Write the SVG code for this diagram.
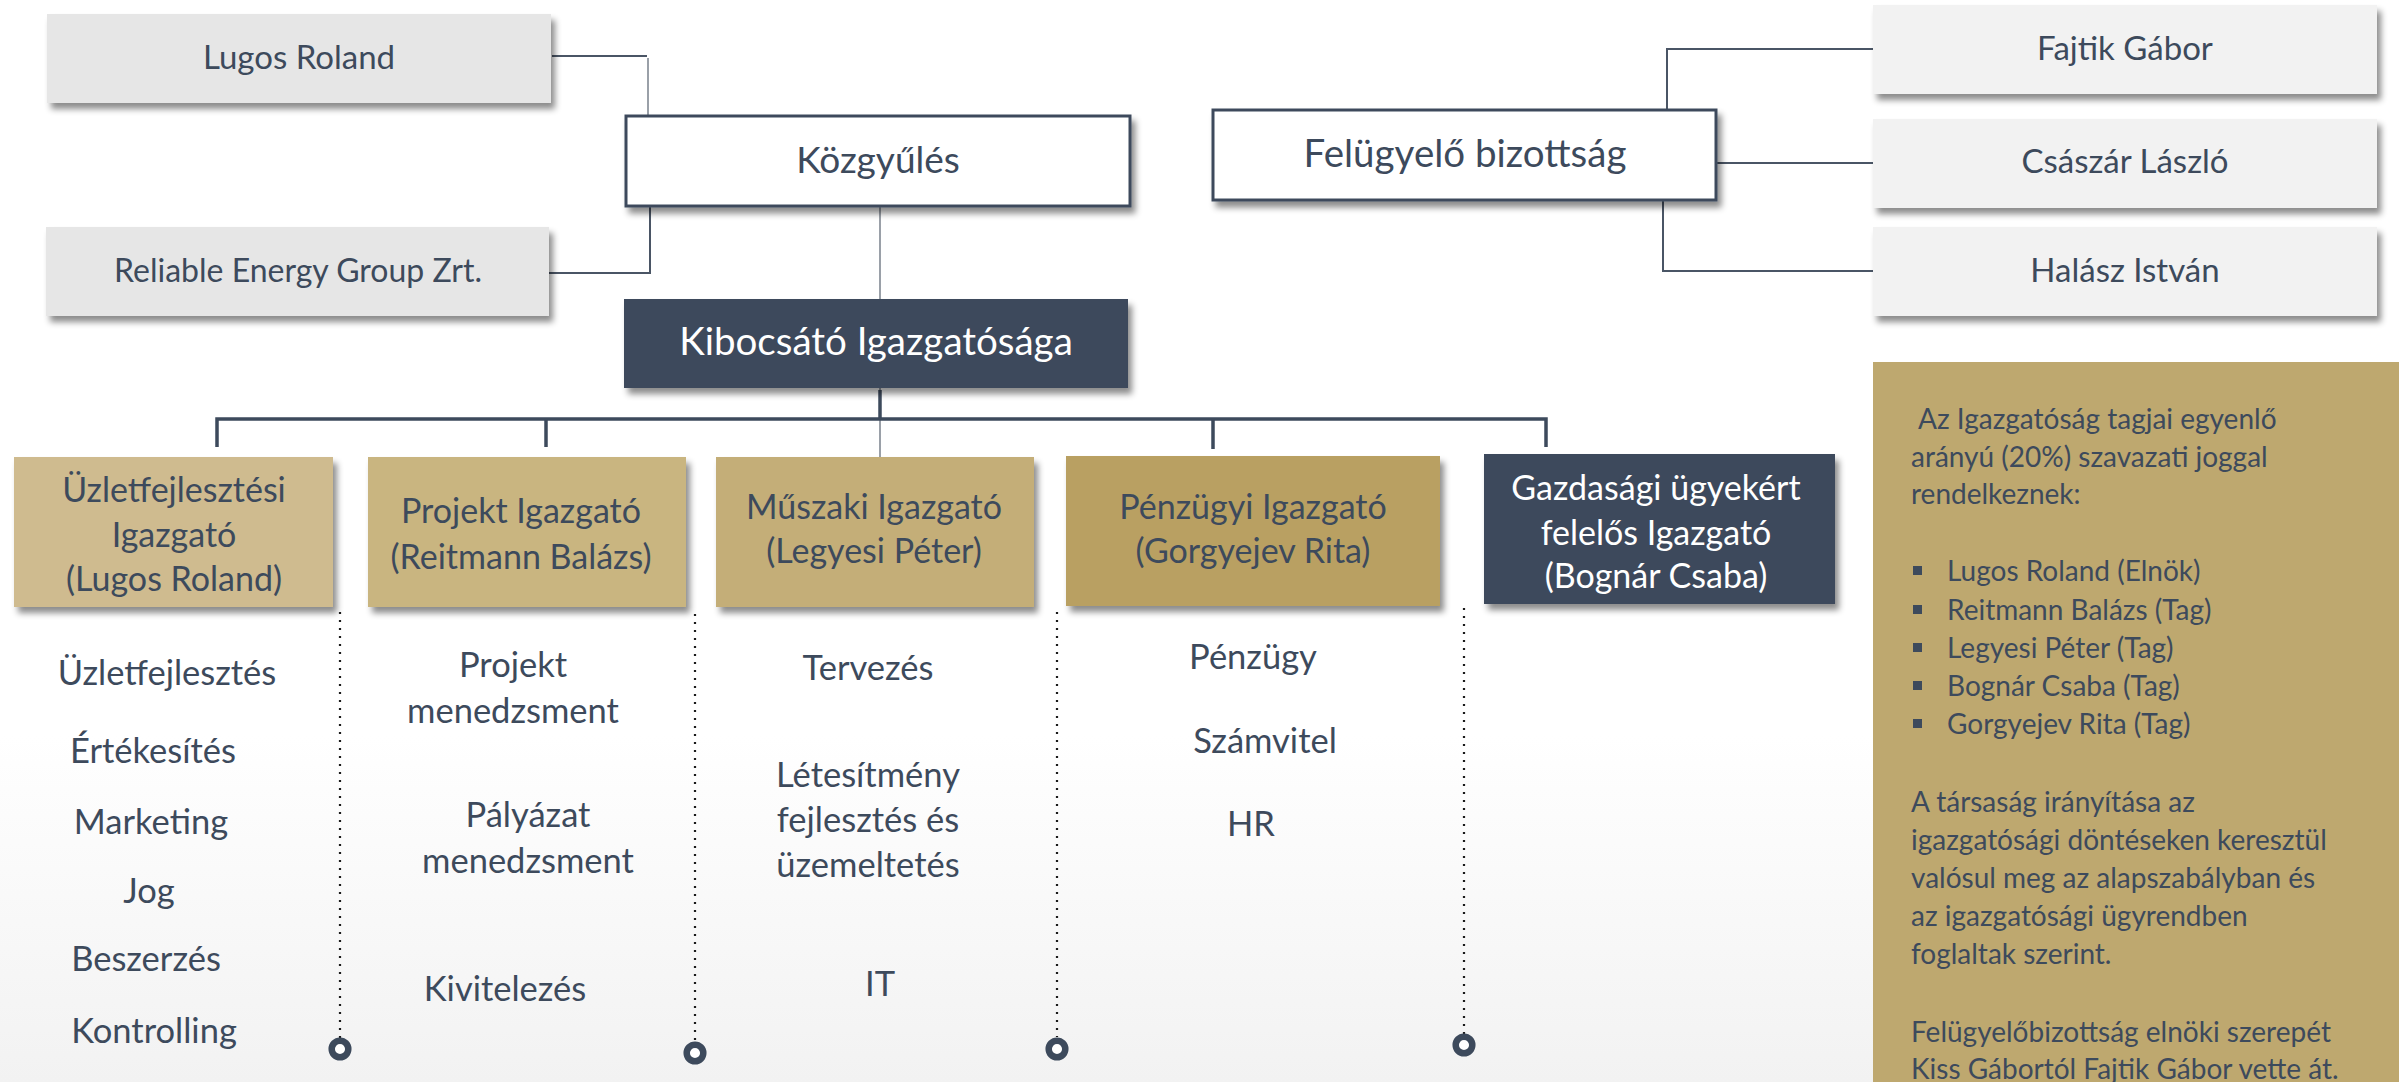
<svg xmlns="http://www.w3.org/2000/svg" width="2399" height="1082" viewBox="0 0 2399 1082">
<defs>
<linearGradient id="bg" x1="0" y1="0" x2="0" y2="1">
<stop offset="0" stop-color="#ffffff"/>
<stop offset="0.68" stop-color="#ffffff"/>
<stop offset="1" stop-color="#f2f2f2"/>
</linearGradient>
<filter id="sh" x="-10%" y="-20%" width="125%" height="150%">
<feDropShadow dx="4" dy="6" stdDeviation="3" flood-color="#000" flood-opacity="0.45"/>
</filter>
<style>
text{font-family:Lato,"Open Sans",sans-serif;fill:#3d4a5c;text-anchor:middle}
.g{font-size:33px}
.big{font-size:38.5px}
.lab{font-size:34px}
.sub{font-size:34.5px}
.w{fill:#ffffff}
.pan{font-size:28px;text-anchor:start}
.thin{stroke:#4a5565;stroke-width:2;fill:none}
.gry{stroke:#9aa0a8;stroke-width:2;fill:none}
.thick{stroke:#3d4a5c;stroke-width:3.5;fill:none}
.dot{stroke:#1a1a1a;stroke-width:2.2;stroke-dasharray:2 6;fill:none}
.ring{fill:#ffffff;stroke:#3d4a5c;stroke-width:6.5}
</style>
</defs>
<rect x="0" y="0" width="2399" height="1082" fill="url(#bg)"/>

<g id="connectors">
<polyline class="thin" points="552,56 647,56"/>
<polyline class="gry" points="648,58 648,116"/>
<polyline class="thin" points="650,206 650,273 549,273"/>
<polyline class="gry" points="880,206 880,457"/>
<polyline class="thick" points="880,390 880,419"/>
<polyline class="thick" points="217,447 217,419 1546,419 1546,447"/>
<polyline class="thick" points="546,419 546,447"/>
<polyline class="thick" points="1213,419 1213,449"/>
<polyline class="thin" points="1667,110 1667,49 1873,49"/>
<polyline class="thin" points="1717,163 1873,163"/>
<polyline class="thin" points="1663,200 1663,271 1873,271"/>
<line class="dot" x1="340" y1="612" x2="340" y2="1038"/>
<line class="dot" x1="695" y1="614" x2="695" y2="1041"/>
<line class="dot" x1="1057" y1="612" x2="1057" y2="1037"/>
<line class="dot" x1="1464" y1="608" x2="1464" y2="1034"/>
<circle class="ring" cx="340" cy="1049" r="8.3"/>
<circle class="ring" cx="695" cy="1053" r="8.3"/>
<circle class="ring" cx="1057" cy="1049" r="8.3"/>
<circle class="ring" cx="1464" cy="1045" r="8.3"/>
</g>

<g id="lugos">
<rect x="47" y="14" width="504" height="89" fill="#e6e6e6" filter="url(#sh)"/>
<text class="g" x="299" y="69">Lugos Roland</text>
</g>
<g id="reliable">
<rect x="46" y="227" width="503" height="89" fill="#e6e6e6" filter="url(#sh)"/>
<text class="g" x="298" y="282" style="font-size:32px">Reliable Energy Group Zrt.</text>
</g>
<g id="kozgyules">
<rect x="626" y="116" width="504" height="90" fill="#ffffff" stroke="#3d4a5c" stroke-width="3" filter="url(#sh)"/>
<text class="big" x="878" y="173" style="font-size:37px">Közgyűlés</text>
</g>
<g id="kibocsato">
<rect x="624" y="299" width="504" height="89" fill="#3d4a5c" filter="url(#sh)"/>
<text class="big w" x="876" y="355">Kibocsátó Igazgatósága</text>
</g>
<g id="felugyelo">
<rect x="1213" y="110" width="503" height="90" fill="#ffffff" stroke="#3d4a5c" stroke-width="3" filter="url(#sh)"/>
<text class="big" x="1465" y="167">Felügyelő bizottság</text>
</g>
<g id="fajtik">
<rect x="1873" y="5" width="504" height="89" fill="#f2f2f2" filter="url(#sh)"/>
<text class="g" x="2125" y="60">Fajtik Gábor</text>
</g>
<g id="csaszar">
<rect x="1873" y="119" width="504" height="89" fill="#f2f2f2" filter="url(#sh)"/>
<text class="g" x="2125" y="173">Császár László</text>
</g>
<g id="halasz">
<rect x="1873" y="227" width="504" height="89" fill="#f2f2f2" filter="url(#sh)"/>
<text class="g" x="2125" y="282">Halász István</text>
</g>

<g id="uzletfejlesztesi">
<rect x="14" y="457" width="319" height="150" fill="#cfbb8f" filter="url(#sh)"/>
<text class="lab" x="174" y="502">Üzletfejlesztési</text>
<text class="lab" x="174" y="547">Igazgató</text>
<text class="lab" x="174" y="591">(Lugos Roland)</text>
</g>
<g id="projekt">
<rect x="368" y="457" width="318" height="150" fill="#c9b580" filter="url(#sh)"/>
<text class="lab" x="521" y="523">Projekt Igazgató</text>
<text class="lab" x="521" y="569">(Reitmann Balázs)</text>
</g>
<g id="muszaki">
<rect x="716" y="457" width="318" height="150" fill="#c4ae78" filter="url(#sh)"/>
<text class="lab" x="874" y="519">Műszaki Igazgató</text>
<text class="lab" x="874" y="563">(Legyesi Péter)</text>
</g>
<g id="penzugyi">
<rect x="1066" y="456" width="374" height="150" fill="#b9a062" filter="url(#sh)"/>
<text class="lab" x="1253" y="519">Pénzügyi Igazgató</text>
<text class="lab" x="1253" y="563">(Gorgyejev Rita)</text>
</g>
<g id="gazdasagi">
<rect x="1484" y="454" width="351" height="150" fill="#3d4a5c" filter="url(#sh)"/>
<text class="lab w" x="1656" y="500">Gazdasági ügyekért</text>
<text class="lab w" x="1656" y="545">felelős Igazgató</text>
<text class="lab w" x="1656" y="588">(Bognár Csaba)</text>
</g>

<g id="col1">
<text class="sub" x="167" y="685">Üzletfejlesztés</text>
<text class="sub" x="153" y="763">Értékesítés</text>
<text class="sub" x="151" y="834">Marketing</text>
<text class="sub" x="149" y="903">Jog</text>
<text class="sub" x="146" y="971">Beszerzés</text>
<text class="sub" x="154" y="1043">Kontrolling</text>
</g>
<g id="col2">
<text class="sub" x="513" y="677">Projekt</text>
<text class="sub" x="513" y="723">menedzsment</text>
<text class="sub" x="528" y="827">Pályázat</text>
<text class="sub" x="528" y="873">menedzsment</text>
<text class="sub" x="505" y="1001">Kivitelezés</text>
</g>
<g id="col3">
<text class="sub" x="868" y="680">Tervezés</text>
<text class="sub" x="868" y="787">Létesítmény</text>
<text class="sub" x="868" y="832">fejlesztés és</text>
<text class="sub" x="868" y="877">üzemeltetés</text>
<text class="sub" x="880" y="996">IT</text>
</g>
<g id="col4">
<text class="sub" x="1253" y="669">Pénzügy</text>
<text class="sub" x="1265" y="753">Számvitel</text>
<text class="sub" x="1251" y="836">HR</text>
</g>

<g id="panel">
<rect x="1873" y="362" width="526" height="720" fill="#bea86f"/>
<text class="pan" x="1918" y="429">Az Igazgatóság tagjai egyenlő</text>
<text class="pan" x="1911" y="467">arányú (20%) szavazati joggal</text>
<text class="pan" x="1911" y="504">rendelkeznek:</text>
<rect x="1913" y="566" width="9" height="9" fill="#3d4a5c"/>
<rect x="1913" y="605" width="9" height="9" fill="#3d4a5c"/>
<rect x="1913" y="643" width="9" height="9" fill="#3d4a5c"/>
<rect x="1913" y="681" width="9" height="9" fill="#3d4a5c"/>
<rect x="1913" y="719" width="9" height="9" fill="#3d4a5c"/>
<text class="pan" x="1947" y="581">Lugos Roland (Elnök)</text>
<text class="pan" x="1947" y="620">Reitmann Balázs (Tag)</text>
<text class="pan" x="1947" y="658">Legyesi Péter (Tag)</text>
<text class="pan" x="1947" y="696">Bognár Csaba (Tag)</text>
<text class="pan" x="1947" y="734">Gorgyejev Rita (Tag)</text>
<text class="pan" x="1911" y="812">A társaság irányítása az</text>
<text class="pan" x="1911" y="850">igazgatósági döntéseken keresztül</text>
<text class="pan" x="1911" y="888">valósul meg az alapszabályban és</text>
<text class="pan" x="1911" y="926">az igazgatósági ügyrendben</text>
<text class="pan" x="1911" y="964">foglaltak szerint.</text>
<text class="pan" x="1911" y="1042">Felügyelőbizottság elnöki szerepét</text>
<text class="pan" x="1911" y="1079">Kiss Gábortól Fajtik Gábor vette át.</text>
</g>
</svg>
